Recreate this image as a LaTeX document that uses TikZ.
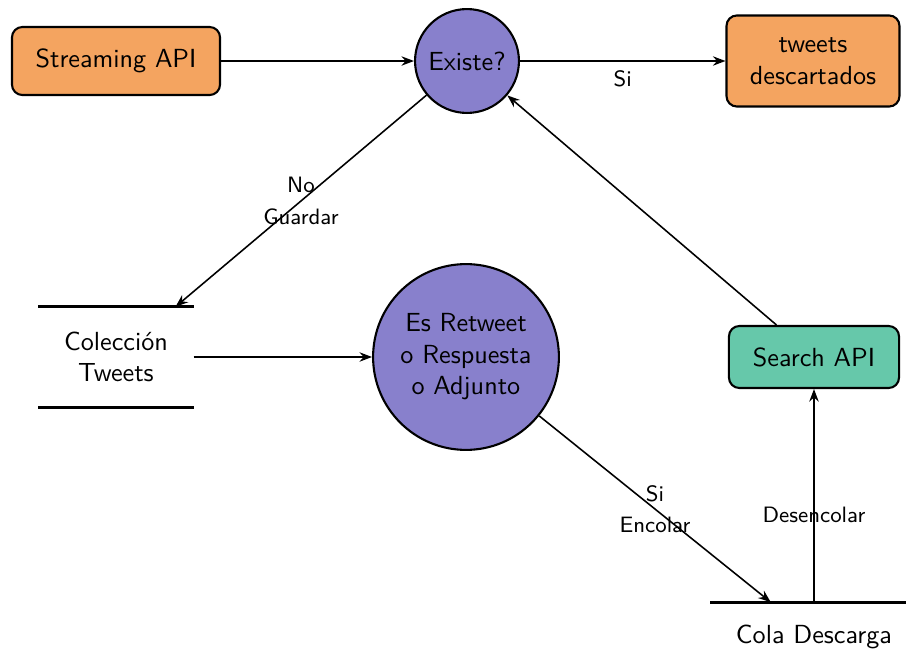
\documentclass[tikz,border=0pt]{standalone}
\usetikzlibrary{positioning,arrows.meta}
\definecolor{naranja}{RGB}{244,164,96}
\definecolor{morado}{RGB}{136,128,204}
\definecolor{verde}{RGB}{102,200,170}
\begin{document}
\begin{tikzpicture}[x=0.3821pt, y=-0.3821pt, semithick, font=\sffamily,
>={Stealth[length=4.8pt,width=3.6pt,inset=1.6pt]},
api node/.style={rectangle,rounded corners=4pt,draw,thick,align=center},
decision node/.style={circle,draw,thick,fill=morado,align=center,inner sep=0pt},
store node/.style={rectangle,align=center},
edge label/.style={font=\sffamily\fontsize{8.5}{12}\selectfont,align=center}]
\useasboundingbox (0,0) rectangle (906,672);
\begin{scope}
\node[api node,fill=naranja,minimum width=79.5pt,minimum height=26pt] (streaming) at (116,61) {Streaming API};%1
\node[decision node,minimum size=39.7pt] (existe) at (467,61) {Existe?};%2
\node[api node,fill=naranja,minimum width=66.1pt,minimum height=34.8pt] (descartados) at (813,61) {tweets\\descartados};%3
\node[store node,minimum width=58.8pt,minimum height=37.8pt] (coleccion) at (116,357) {Colección\\Tweets};%4
\node[decision node,minimum size=71pt] (retweet) at (466,357) {Es Retweet\\o Respuesta\\o Adjunto};%5
\node[api node,fill=verde,minimum width=65pt,minimum height=23.7pt] (search) at (814,357) {Search API};%6
\node[store node,minimum width=78.7pt,minimum height=26pt] (cola) at (814,637) {Cola Descarga};%7
\end{scope}
\begin{scope}[very thick]
\draw (coleccion.north west) -- (coleccion.north east);
\draw (coleccion.south west) -- (coleccion.south east);
\draw (cola.north west) -- (cola.north east);
\end{scope}
\begin{scope}[->]
\draw (streaming) edge (existe);
\draw (existe) edge node[edge label,below]{Si} (descartados);
\draw (existe) edge node[edge label]{No\\Guardar} (coleccion);
\draw (coleccion) edge (retweet);
\draw (retweet) edge node[edge label]{Si\\Encolar} (cola);
\draw (cola) edge node[edge label,pos=0.41]{Desencolar} (search);
\draw (search) edge (existe);
\end{scope}
\end{tikzpicture}
\end{document}
